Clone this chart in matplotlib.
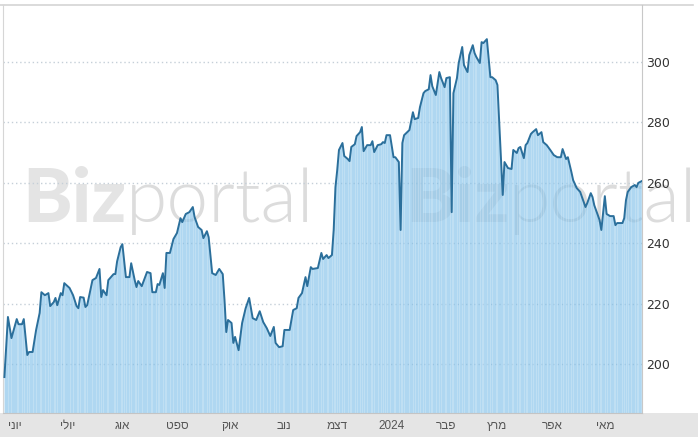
import numpy as np
import pandas as pd
import matplotlib
matplotlib.use("Agg")
from matplotlib import pyplot as plt
import matplotlib.dates as mdates
from matplotlib.patches import Rectangle
from matplotlib.lines import Line2D

# days counted from start_date, price
start_date = "2023-06-01"
day_offsets = [
    -6, -4, -2, 1, 2, 4, 5, 7, 8, 10, 12, 14, 15, 17, 19, 20, 22, 23, 24, 26,
    27, 28, 31, 33, 35, 36, 37, 39, 40, 41, 44, 46, 48, 49, 50, 52, 53, 56, 57, 58,
    60, 61, 62, 63, 65, 66, 68, 69, 70, 72, 75, 77, 78, 80, 81, 82, 84, 85, 86, 88,
    90, 92, 94, 95, 97, 99, 101, 102, 104, 106, 107, 109, 110, 112, 114, 116, 118, 119, 120, 121,
    123, 124, 125, 127, 129, 131, 133, 135, 137, 139, 141, 143, 145, 147, 148, 150, 152, 153, 156, 158,
    160, 161, 163, 165, 166, 168, 169, 172, 174, 175, 177, 178, 180, 181, 182, 183, 184, 186, 187, 189,
    190, 191, 193, 194, 196, 197, 198, 200, 202, 203, 204, 206, 208, 209, 210, 211, 213, 215, 216, 218,
    219, 220, 221, 224, 226, 227, 229, 230, 232, 233, 235, 236, 237, 239, 241, 242, 244, 245, 247, 248,
    249, 251, 252, 254, 255, 257, 258, 260, 261, 262, 264, 265, 266, 268, 270, 271, 273, 274, 277, 278,
    280, 282, 283, 285, 286, 287, 289, 290, 291, 293, 294, 296, 297, 299, 300, 302, 304, 306, 308, 310,
    311, 313, 314, 316, 317, 319, 321, 322, 324, 325, 327, 328, 329, 331, 332, 333, 335, 336, 338, 340,
    341, 342, 345, 346, 347, 348, 350, 352, 353, 354, 356,
]
prices = [
    195.7, 215.6, 208.6, 214.9, 213.2, 213.2, 214.9, 203.0, 204.0, 204.0, 211.3, 216.9, 223.8, 222.8, 223.5, 219.2, 220.5, 221.9, 219.5, 223.5,
    222.8, 226.8, 225.2, 222.8, 219.2, 218.5, 222.2, 222.0, 218.9, 219.5, 227.8, 228.5, 231.5, 222.2, 224.5, 222.8, 227.8, 229.8, 229.8, 234.0,
    238.7, 239.7, 234.4, 228.8, 228.8, 233.4, 227.8, 225.5, 227.5, 225.8, 230.5, 230.1, 223.8, 223.8, 226.5, 226.2, 230.1, 225.2, 236.8, 236.8,
    241.4, 243.4, 248.3, 247.0, 249.7, 250.3, 252.0, 248.7, 245.4, 244.4, 241.7, 244.0, 242.0, 230.1, 229.5, 231.5, 229.8, 221.2, 210.6, 214.6,
    213.6, 207.0, 209.0, 204.6, 213.6, 218.5, 221.9, 215.2, 214.6, 217.5, 213.9, 211.9, 209.3, 212.3, 207.0, 205.6, 205.9, 211.3, 211.3, 217.9,
    218.5, 221.9, 223.5, 228.8, 225.8, 232.1, 231.5, 231.8, 236.8, 234.8, 236.1, 235.1, 236.1, 244.4, 258.6, 264.2, 270.9, 273.2, 268.9, 267.9,
    267.2, 271.9, 272.8, 275.5, 276.8, 278.5, 270.5, 272.5, 272.5, 273.8, 270.2, 272.5, 272.8, 273.5, 273.2, 275.8, 275.8, 268.5, 268.5, 266.9,
    244.4, 273.2, 275.8, 277.5, 283.4, 281.1, 281.5, 285.1, 289.7, 290.4, 291.0, 295.7, 292.0, 289.1, 296.7, 294.7, 291.7, 294.7, 295.0, 250.3,
    289.7, 294.7, 299.7, 305.0, 299.0, 296.7, 302.3, 305.6, 303.0, 301.7, 299.7, 306.6, 306.3, 307.6, 295.0, 295.0, 294.0, 292.4, 256.0, 266.9,
    264.9, 264.6, 270.9, 269.9, 271.5, 271.9, 268.2, 272.5, 273.2, 276.2, 276.8, 277.8, 275.8, 276.8, 273.5, 272.5, 270.9, 269.2, 268.5, 268.5,
    271.2, 267.9, 268.5, 263.6, 260.9, 258.3, 257.0, 255.3, 252.0, 253.3, 256.6, 255.3, 252.6, 249.3, 247.7, 244.4, 255.6, 249.7, 249.0, 249.0,
    246.0, 246.7, 246.7, 248.3, 254.3, 257.0, 258.6, 259.3, 258.6, 260.0, 260.6,
]

month_ticks = ["2023-06-01", "2023-07-01", "2023-08-01", "2023-09-01", "2023-10-01", "2023-11-01",
               "2023-12-01", "2024-01-01", "2024-02-01", "2024-03-01", "2024-04-01", "2024-05-01"]
month_labels = ["יוני", "יולי", "אוג", "ספט", "אוק", "נוב", "דצמ", "2024", "פבר", "מרץ", "אפר", "מאי"]
y_ticks = [200, 220, 240, 260, 280, 300]

W, H = 698, 437
fig = plt.figure(figsize=(W / 100, H / 100), dpi=100)
fig.patch.set_facecolor("white")

# gray strip under the axis + thin frame line on top
fig.patches.append(Rectangle((0, 0), 1, 24 / H, transform=fig.transFigure,
                             facecolor="#e5e5e5", edgecolor="none", zorder=-3))
fig.lines.append(Line2D([0, 693 / W], [432 / H, 432 / H], transform=fig.transFigure,
                        color="#d4d4d4", lw=1.2, zorder=-3))

ax = fig.add_axes([3 / W, 24 / H, 639 / W, 408 / H])
ax.set_facecolor("none")

base = pd.Timestamp(start_date)
dates = base + pd.to_timedelta(day_offsets, unit="D")

ax.fill_between(dates, prices, 150, color="#7fbfe9", alpha=0.62, lw=0, zorder=1)
ax.vlines(dates, 150, prices, color="white", alpha=0.25, lw=0.6, zorder=1.5)
ax.plot(dates, prices, color="#2b6f9b", lw=1.4, zorder=3, solid_joinstyle="round")

ax.set_ylim(183.8, 318.9)
ax.set_xlim(base - pd.Timedelta(days=6.8), base + pd.Timedelta(days=356.1))

ax.set_yticks(y_ticks)
ax.yaxis.tick_right()
ax.tick_params(axis="y", length=0, pad=3, labelsize=9, labelcolor="#333333")
ax.grid(axis="y", linestyle=(0, (1, 2)), color="#c5cfd8", lw=1)
ax.set_axisbelow(True)

# matplotlib has no bidi, so reverse hebrew so it reads right to left
ax.set_xticks(pd.to_datetime(month_ticks))
ax.set_xticklabels([s if s.isdigit() else s[::-1] for s in month_labels],
                   family=["Liberation Sans", "DejaVu Sans"])
ax.tick_params(axis="x", length=0, pad=5, labelsize=8.5, labelcolor="#555555")

ax.spines["top"].set_visible(False)
ax.spines["left"].set_color("#d6d6d6")
ax.spines["right"].set_color("#c8c8c8")
ax.spines["bottom"].set_color("#c4c4c4")

# Bizportal watermark, two copies behind the chart
wm_y = (H - 222) / H
fig.canvas.draw()
r = fig.canvas.get_renderer()
for x0 in [22, 405]:
    t = fig.text(x0 / W, wm_y, "Biz", fontsize=54, family="Lato", weight=900,
                 color="#e4e4e4", va="baseline", zorder=-1)
    bb = t.get_window_extent(r)
    fig.text(bb.x1 / W, wm_y, "portal", fontsize=54, family="Lato", weight=300,
             color="#dcdcdc", va="baseline", zorder=-1)

fig.savefig("out.png", dpi=100)
